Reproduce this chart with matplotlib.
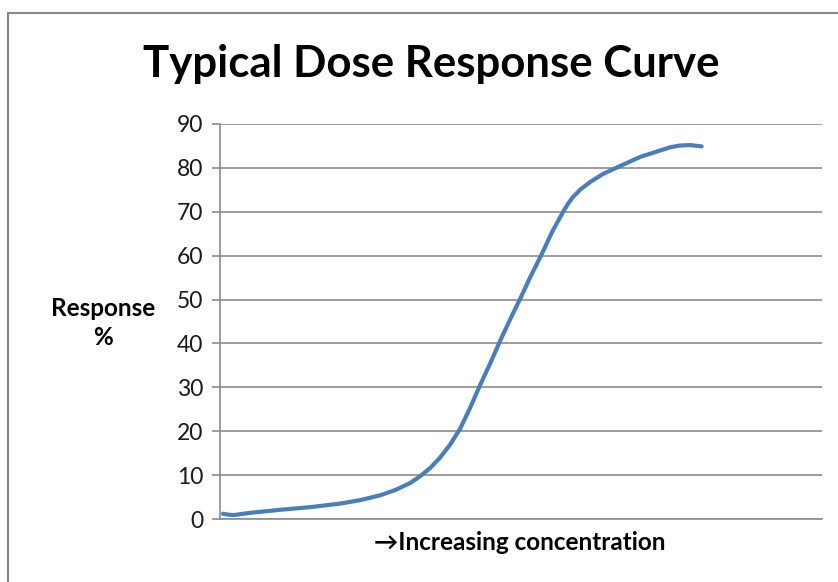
import matplotlib.pyplot as plt
from matplotlib.patches import Rectangle

# concentration (relative units along the category axis) and response %
conc = [0.5, 1.3, 2.3, 5, 10, 15, 19.9, 23.3, 26.6, 29.1, 31.6, 33.2, 34.9,
        36.5, 38.2, 39.9, 41.5, 43.2, 44.9, 46.5, 48.2, 49.8, 51.5, 53.5,
        55.2, 57, 57.8, 58.6, 59.8, 61.5, 63.6, 66.1, 69.8, 72.3, 74.8,
        76.4, 78.1, 80]
response = [1.2, 1.0, 0.9, 1.4, 2.1, 2.7, 3.5, 4.3, 5.4, 6.6, 8.2, 9.7, 11.6,
            13.9, 16.9, 20.6, 25.2, 30.5, 35.5, 40.5, 45.5, 50, 55, 60.5,
            65.5, 70, 71.8, 73.3, 75, 76.8, 78.6, 80.2, 82.5, 83.6, 84.7,
            85.1, 85.2, 84.9]
yticks = list(range(0, 100, 10))

FONT = ['Lato', 'DejaVu Sans']
plt.rcParams['font.family'] = FONT

fig = plt.figure(figsize=(8.38, 5.82), dpi=100)
ax = fig.add_axes([220 / 838, 1 - 519 / 582, 602 / 838, 395 / 582])

ax.plot(conc, response, color='#4A7EBB', lw=3,
        solid_joinstyle='round', solid_capstyle='round')

ax.set_xlim(0, 100)
ax.set_ylim(0, 90)
ax.set_yticks(yticks)
ax.set_xticks([])
ax.grid(axis='y', color='#8c8c8c', lw=1.2)
ax.set_axisbelow(True)
for s in ['top', 'right']:
    ax.spines[s].set_visible(False)
for s in ['left', 'bottom']:
    ax.spines[s].set_color('#8c8c8c')
    ax.spines[s].set_linewidth(1.2)
ax.tick_params(axis='y', direction='out', length=6, width=1.2,
               color='#8c8c8c', labelsize=16.5, labelcolor='#1a1a1a', pad=6)

fig.text(0.515, 1 - 64 / 582, 'Typical Dose Response Curve', ha='center',
         va='center', fontsize=31.5, fontweight='bold')
fig.text(103 / 838, 1 - 323 / 582, 'Response\n%', ha='center', va='center',
         fontsize=17.5, fontweight='bold', linespacing=1.35)
fig.text(520 / 838, 1 - 542 / 582, '\u2192Increasing concentration',
         ha='center', va='center', fontsize=17.5, fontweight='bold')

fig.patches.append(Rectangle((8 / 838, -0.2), 1.2, 1.2 - 13 / 582,
                             transform=fig.transFigure, fill=False,
                             edgecolor='#888888', lw=1.5))

fig.savefig('out.png', dpi=100)
